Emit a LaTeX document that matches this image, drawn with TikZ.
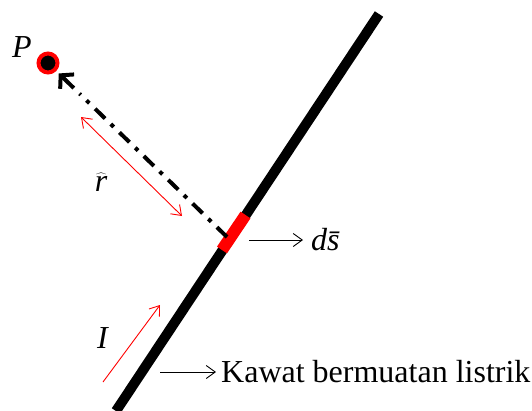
\documentclass[tikz,border=0pt]{standalone}
\usepackage{fontspec}
\setmainfont{Liberation Serif}
\usetikzlibrary{arrows.meta,calc}
\tikzset{
  lbl/.style={font=\fontsize{32}{34}\selectfont, inner sep=0pt},
  thinarrow/.style={line width=0.9pt, -{Straight Barb[length=9pt,width=13pt]}},
}
\begin{document}
\begin{tikzpicture}[x=1pt,y=-1pt]
  \useasboundingbox (0,0) rectangle (532,410);
  % wire
  \coordinate (wireA) at (116,411);
  \coordinate (wireB) at (379,14);
  \draw[line width=10pt] (wireA) -- (wireB);
  % element ds
  \coordinate (dsA) at (222,250);
  \coordinate (dsB) at (245.5,215);
  \draw[red, line width=12pt] (dsA) -- (dsB);
  % point P
  \node[circle, fill=black, draw=red, line width=4pt, minimum size=19pt, inner sep=0pt] (P) at (48,63) {};
  \node[lbl] (Plbl) at (22,47) {\textit{P}};
  % position vector
  \coordinate (src) at (227,237);
  \coordinate (tip) at ($(P)!15pt!(src)$);
  \coordinate (tipbase) at ($(P)!44pt!(src)$);
  \draw[line width=4pt, dash pattern=on 14pt off 8pt on 4pt off 8pt] (src) -- (tipbase);
  \draw[line width=4pt, -{Straight Barb[length=9pt,width=20pt]}] ($(P)!36pt!(src)$) -- (tip);
  % distance r
  \coordinate (rA) at (81,117);
  \coordinate (rB) at (182,216);
  \draw[red, line width=0.9pt, {Straight Barb[length=9pt,width=13pt]}-{Straight Barb[length=9pt,width=13pt]}] (rA) -- (rB);
  \node[lbl] (rlbl) at (101,182) {$\widehat{\textit{r}}$};
  % labels for ds
  \coordinate (dsarr) at (249,240);
  \node[lbl, anchor=west] (dslbl) at (311,240) {\textit{d\={s}}};
  \draw[thinarrow] (dsarr) -- ([xshift=-8pt]dslbl.west);
  % current I
  \coordinate (IA) at (103,382);
  \coordinate (IB) at (160,305);
  \draw[red, thinarrow] (IA) -- (IB);
  \node[lbl] (Ilbl) at (103,338) {\textit{I}};
  % wire label
  \coordinate (kwarr) at (160,372);
  \node[lbl, anchor=west] (kwlbl) at (221,372) {Kawat bermuatan listrik};
  \draw[thinarrow] (kwarr) -- ([xshift=-5pt]kwlbl.west);
\end{tikzpicture}
\end{document}
